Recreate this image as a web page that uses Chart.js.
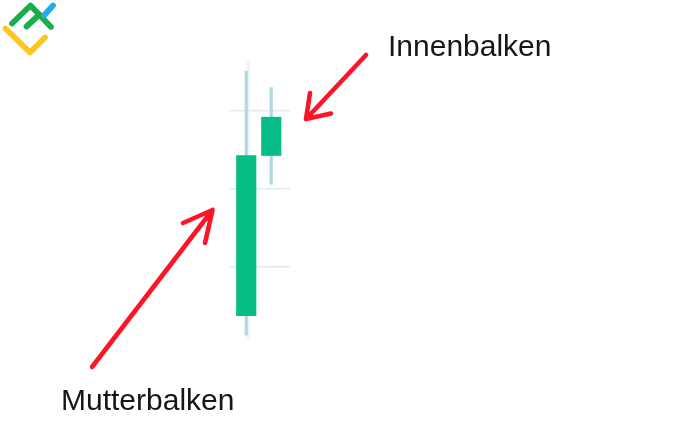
<!DOCTYPE html>
<html>
<head>
<meta charset="utf-8">
<script src="https://cdn.jsdelivr.net/npm/chart.js@4"></script>
<style>
html,body{margin:0;padding:0;background:#fff;}
#wrap{width:677px;height:446px;position:relative;}
</style>
</head>
<body>
<div id="wrap"><canvas id="c" width="677" height="446"></canvas></div>
<script>
// ---- data ----
const categories = ['Mutterbalken', 'Innenbalken'];
const candleX = [0, 1];
const openV  = [3.8, 24.3];
const closeV = [24.3, 29.2];
const highV  = [35.1, 33.0];
const lowV   = [1.3, 20.6];
const yTicks = [10, 20, 30];
const xTicks = [0.08];
const labels = ['Innenbalken', 'Mutterbalken'];

const bodies = candleX.map((x, i) => ({x: x, y: [Math.min(openV[i], closeV[i]), Math.max(openV[i], closeV[i])]}));
const wicks  = candleX.map((x, i) => ({x: x, y: [lowV[i], highV[i]]}));

const annotPlugin = {
  id: 'annot',
  afterDraw(chart) {
    const ctx = chart.ctx;
    ctx.save();
    // logo
    ctx.lineCap = 'round';
    ctx.lineJoin = 'round';
    ctx.lineWidth = 5.8;
    ctx.strokeStyle = '#fcc521';
    ctx.beginPath(); ctx.moveTo(5.5, 28.5); ctx.lineTo(30, 52.5); ctx.lineTo(45, 37.5); ctx.stroke();
    ctx.strokeStyle = '#1aad4b';
    ctx.beginPath(); ctx.moveTo(12, 23.5); ctx.lineTo(30.5, 5.5); ctx.lineTo(51, 27); ctx.stroke();
    ctx.beginPath(); ctx.moveTo(39.5, 14.5); ctx.lineTo(26.5, 26.5); ctx.stroke();
    ctx.strokeStyle = '#27a9e6';
    ctx.beginPath(); ctx.moveTo(44, 15.5); ctx.lineTo(53, 5.5); ctx.stroke();

    // arrows
    ctx.strokeStyle = '#ff1427';
    ctx.lineWidth = 4.6;
    const arrows = [
      [[366, 55], [306, 119], [310, 93], [331, 113.5]],
      [[92, 367], [212.5, 210], [183, 223], [205, 243]]
    ];
    arrows.forEach(a => {
      ctx.beginPath();
      ctx.moveTo(a[0][0], a[0][1]); ctx.lineTo(a[1][0], a[1][1]);
      ctx.moveTo(a[2][0], a[2][1]); ctx.lineTo(a[1][0], a[1][1]); ctx.lineTo(a[3][0], a[3][1]);
      ctx.stroke();
    });

    // labels
    ctx.fillStyle = '#161616';
    ctx.font = '30px "Liberation Sans", Arial, sans-serif';
    ctx.textBaseline = 'alphabetic';
    ctx.fillText(labels[0], 388, 56);
    ctx.fillText(labels[1], 61, 410);
    ctx.restore();
  }
};

new Chart(document.getElementById('c'), {
  type: 'bar',
  data: {
    datasets: [
      {label: 'Körper', data: bodies, backgroundColor: '#05bd85', borderWidth: 0, barThickness: 19.5, grouped: false},
      {label: 'Docht', data: wicks, backgroundColor: '#b0d9e0', borderWidth: 0, barThickness: 2.5, grouped: false}
    ]
  },
  options: {
    responsive: false,
    animation: false,
    parsing: {xAxisKey: 'x', yAxisKey: 'y'},
    layout: {padding: {left: 229, top: 61, right: 387, bottom: 107}},
    plugins: {legend: {display: false}, tooltip: {enabled: false}},
    scales: {
      x: {
        type: 'linear', min: -0.69, max: 1.75, offset: false,
        afterBuildTicks: s => { s.ticks = xTicks.map(v => ({value: v})); },
        ticks: {display: false},
        border: {display: false},
        grid: {offset: false, drawTicks: false, color: '#edf2f5', lineWidth: 2.5}
      },
      y: {
        min: 0.8, max: 36.4,
        afterBuildTicks: s => { s.ticks = yTicks.map(v => ({value: v})); },
        ticks: {display: false},
        border: {display: false},
        grid: {drawTicks: false, color: '#e4ebef', lineWidth: 1.5}
      }
    }
  },
  plugins: [annotPlugin]
});
</script>
</body>
</html>
